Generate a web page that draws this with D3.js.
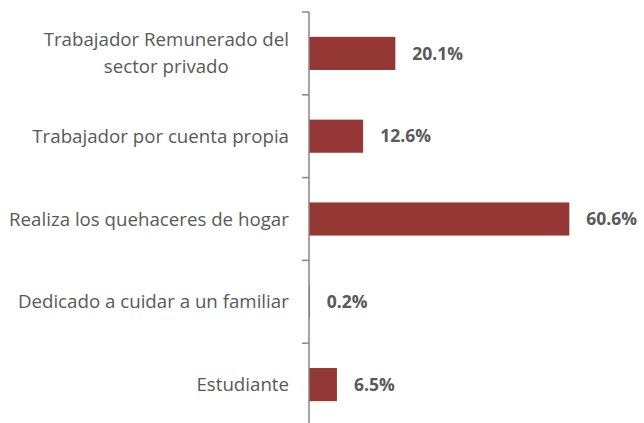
<!DOCTYPE html>
<html>
<head>
<meta charset="utf-8">
<script src="https://cdn.jsdelivr.net/npm/d3@7"></script>
<style>
  html, body { margin: 0; padding: 0; background: #fff; }
  svg { display: block; }
</style>
</head>
<body>
<div id="chart"></div>
<script>
const categories = [
  ['Trabajador Remunerado del', 'sector privado'],
  ['Trabajador por cuenta propia'],
  ['Realiza los quehaceres de hogar'],
  ['Dedicado a cuidar a un familiar'],
  ['Estudiante']
]
const values = [20.1, 12.6, 60.6, 0.2, 6.5]
const valueLabels = ['20.1%', '12.6%', '60.6%', '0.2%', '6.5%']

const width = 644, height = 423
const font = '"Open Sans", sans-serif'

const svg = d3.select('#chart').append('svg')
  .attr('width', width)
  .attr('height', height)

const keys = categories.map((_, i) => i)

const x = d3.scaleLinear().domain([0, 70]).range([309, 609.7])
const y = d3.scaleBand().domain(keys).range([12, 426]).paddingInner(0.6).paddingOuter(0.3)

// bars
svg.selectAll('rect.bar')
  .data(values)
  .join('rect')
  .attr('class', 'bar')
  .attr('x', x(0))
  .attr('y', (d, i) => y(i))
  .attr('width', d => x(d) - x(0))
  .attr('height', y.bandwidth())
  .attr('fill', '#953735')

// value labels
svg.selectAll('text.val')
  .data(values)
  .join('text')
  .attr('class', 'val')
  .attr('x', d => x(d) + 17)
  .attr('y', (d, i) => y(i) + y.bandwidth() / 2)
  .attr('dy', '0.35em')
  .attr('font-family', font)
  .attr('font-weight', 'bold')
  .attr('font-size', 17.5)
  .attr('fill', '#595959')
  .text((d, i) => valueLabels[i])

// axis line + ticks between categories
const axis = svg.append('g')
axis.append('line')
  .attr('x1', x(0)).attr('x2', x(0))
  .attr('y1', 12).attr('y2', height)
  .attr('stroke', '#868686').attr('stroke-width', 1.5)
d3.range(categories.length + 1).forEach(i => {
  const ty = 12 + i * y.step()
  axis.append('line')
    .attr('x1', x(0) - 7).attr('x2', x(0))
    .attr('y1', ty).attr('y2', ty)
    .attr('stroke', '#868686').attr('stroke-width', 1.5)
})

// category labels (centred block, right edge at 289)
categories.forEach((lines, i) => {
  const cy = y(i) + y.bandwidth() / 2
  const lh = 27
  const t = svg.append('text')
    .attr('font-family', font)
    .attr('font-size', 18.7)
    .attr('fill', '#595959')
    .attr('text-anchor', 'middle')
  lines.forEach((ln, j) => {
    t.append('tspan')
      .attr('x', 0)
      .attr('y', cy + (j - (lines.length - 1) / 2) * lh)
      .attr('dy', '0.35em')
      .text(ln)
  })
  const w = t.node().getBBox().width
  t.attr('transform', `translate(${289 - w / 2},0)`)
})
</script>
</body>
</html>
